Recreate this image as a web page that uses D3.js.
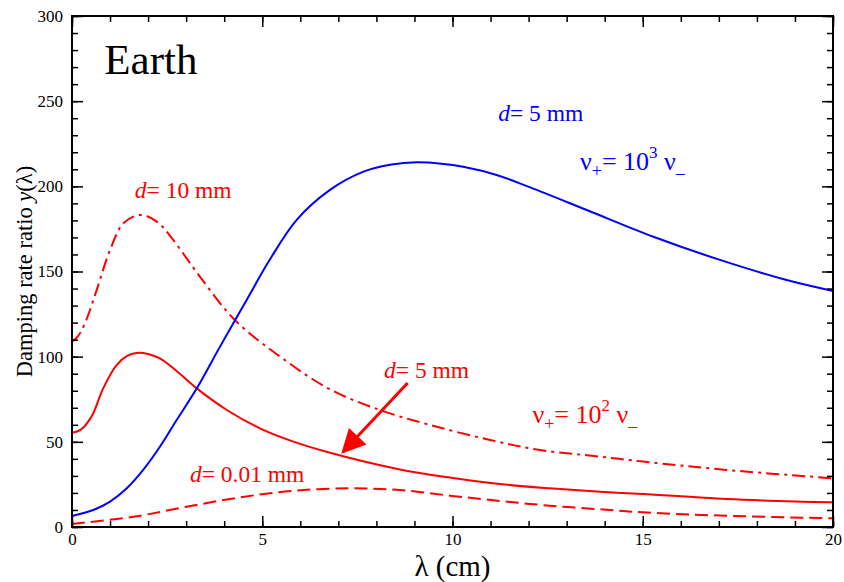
<!DOCTYPE html>
<html>
<head>
<meta charset="utf-8">
<script src="https://cdn.jsdelivr.net/npm/d3@7"></script>
<style>
  body { margin: 0; background: #fff; }
  svg, text { font-family: "Liberation Serif", "Times New Roman", "DejaVu Serif", serif; }
</style>
</head>
<body>
<svg id="chart" width="844" height="582" font-family="Liberation Serif, Times New Roman, serif"></svg>
<script>
// wavelength lambda (cm) / damping rate ratio y
var blueX = [0, 0.56, 1.0, 1.44, 1.87, 2.31, 2.75, 3.28, 3.89, 4.59, 5.2, 5.90, 6.78, 7.66, 8.4, 9.06, 9.7, 10.28, 11.16, 12.04, 13.53, 15.28, 17.03, 18.78, 20];
var blueY = [6.5, 10, 14.9, 22.7, 33.5, 47.1, 62.8, 81.4, 105.9, 133.3, 157, 180.2, 197.9, 208.6, 212.8, 214.1, 213.3, 211.5, 206.7, 199.4, 186.1, 170.4, 156.8, 145, 138.6];

var solidX = [0, 0.15, 0.30, 0.43, 0.56, 0.82, 1.17, 1.45, 1.74, 2.0, 2.31, 2.75, 3.28, 4.07, 4.94, 5.82, 6.78, 8.62, 9.93, 11.25, 12.56, 13.88, 15.01, 17.2, 20];
var solidY = [55.4, 56.2, 58.4, 62, 66.8, 81.4, 95.1, 100.5, 102.3, 101.6, 99, 91.6, 81.4, 68.7, 57.9, 50.1, 43.6, 33.8, 29, 25.2, 22.7, 20.7, 19.4, 16.4, 14.5];

var dashDotX = [0, 0.15, 0.30, 0.45, 0.65, 1.0, 1.35, 1.79, 2.23, 2.66, 3.36, 4.28, 5.47, 6.78, 8.09, 9.41, 10.99, 12.3, 13.88, 15.01, 17.2, 20];
var dashDotY = [108.8, 111.8, 117.6, 126, 139.2, 162.6, 178.3, 183.2, 179.3, 168.5, 147, 121.5, 100, 80.8, 68.7, 59.9, 51.1, 45.2, 41.3, 38.4, 33.5, 28.6];

var dashX = [0, 1.61, 3.01, 4.42, 5.82, 7.31, 8.62, 9.93, 11.25, 12.56, 13.88, 15.01, 17.2, 20];
var dashY = [1.8, 6, 11.9, 17.4, 21.3, 22.7, 21.7, 18.4, 15.3, 12.5, 10.4, 8.6, 6.6, 5.1];

var xMajor = [0, 5, 10, 15, 20];
var yMajor = [0, 50, 100, 150, 200, 250, 300];

(function() {
    var svg = d3.select('#chart');
    var pL = 72, pR = 833, pT = 16, pB = 527;

    var x = d3.scaleLinear().domain([0, 20]).range([pL, pR]);
    var y = d3.scaleLinear().domain([0, 300]).range([pB, pT]);

    var line = d3.line()
        .x(function(d) { return x(d[0]); })
        .y(function(d) { return y(d[1]); })
        .curve(d3.curveCatmullRom.alpha(0.5));

    function pairs(xs, ys) { return xs.map(function(v, i) { return [v, ys[i]]; }); }

    // curves
    svg.append('path').datum(pairs(dashX, dashY))
        .attr('d', line).attr('fill', 'none').attr('stroke', '#ff0000')
        .attr('stroke-width', 2).attr('stroke-dasharray', '13,6');
    svg.append('path').datum(pairs(dashDotX, dashDotY))
        .attr('d', line).attr('fill', 'none').attr('stroke', '#ff0000')
        .attr('stroke-width', 2).attr('stroke-dasharray', '13,5,3,5');
    svg.append('path').datum(pairs(solidX, solidY))
        .attr('d', line).attr('fill', 'none').attr('stroke', '#ff0000')
        .attr('stroke-width', 2);
    svg.append('path').datum(pairs(blueX, blueY))
        .attr('d', line).attr('fill', 'none').attr('stroke', '#0000ff')
        .attr('stroke-width', 2);

    // axes: ticks pointing inward, mirrored on all four sides
    var tickStyle = function(g) {
        g.attr('font-family', null).attr('font-size', null);
        g.select('.domain').remove();
        g.selectAll('line').attr('stroke', '#000').attr('stroke-width', 1.5);
        g.selectAll('text').attr('fill', '#000').style('font-size', '17px');
    };
    function minor(axis) { return axis.tickSizeInner(-6).tickSizeOuter(0).tickFormat(''); }

    svg.append('g').attr('transform', 'translate(0,' + pB + ')')
        .call(minor(d3.axisBottom(x).tickValues(d3.range(0, 21, 1)))).call(tickStyle);
    svg.append('g').attr('transform', 'translate(0,' + pT + ')')
        .call(minor(d3.axisTop(x).tickValues(d3.range(0, 21, 1)))).call(tickStyle);
    svg.append('g').attr('transform', 'translate(' + pL + ',0)')
        .call(minor(d3.axisLeft(y).tickValues(d3.range(0, 301, 10)))).call(tickStyle);
    svg.append('g').attr('transform', 'translate(' + pR + ',0)')
        .call(minor(d3.axisRight(y).tickValues(d3.range(0, 301, 10)))).call(tickStyle);

    svg.append('g').attr('transform', 'translate(0,' + pB + ')')
        .call(d3.axisBottom(x).tickValues(xMajor).tickSizeInner(-11).tickSizeOuter(0).tickPadding(6))
        .call(tickStyle);
    svg.append('g').attr('transform', 'translate(0,' + pT + ')')
        .call(d3.axisTop(x).tickValues(xMajor).tickSizeInner(-11).tickSizeOuter(0).tickFormat(''))
        .call(tickStyle);
    svg.append('g').attr('transform', 'translate(' + pL + ',0)')
        .call(d3.axisLeft(y).tickValues(yMajor).tickSizeInner(-11).tickSizeOuter(0).tickPadding(9))
        .call(tickStyle);
    svg.append('g').attr('transform', 'translate(' + pR + ',0)')
        .call(d3.axisRight(y).tickValues(yMajor).tickSizeInner(-11).tickSizeOuter(0).tickFormat(''))
        .call(tickStyle);

    svg.append('rect')
        .attr('x', pL).attr('y', pT)
        .attr('width', pR - pL).attr('height', pB - pT)
        .attr('fill', 'none').attr('stroke', '#000').attr('stroke-width', 2);

    // axis titles
    svg.append('text').attr('x', (pL + pR) / 2).attr('y', 576)
        .attr('text-anchor', 'middle').style('font-size', '29px').text('λ (cm)');
    var yl = svg.append('text')
        .attr('transform', 'translate(32,' + ((pT + pB) / 2) + ') rotate(-90)')
        .attr('text-anchor', 'middle').style('font-size', '22.5px');
    yl.append('tspan').text('Damping rate ratio ');
    yl.append('tspan').style('font-style', 'italic').text('y');
    yl.append('tspan').text('(λ)');

    // annotations
    svg.append('text').attr('x', x(0.85)).attr('y', 74)
        .style('font-size', '43px').text('Earth');

    function dLabel(px, py, rest, color) {
        var t = svg.append('text').attr('x', px).attr('y', py)
            .attr('fill', color).style('font-size', '23.5px');
        t.append('tspan').style('font-style', 'italic').text('d');
        t.append('tspan').text('= ' + rest);
    }
    dLabel(x(1.65), 198, '10 mm', '#ff0000');
    dLabel(x(11.2), 121, '5 mm', '#0000ff');
    dLabel(x(8.2), 378, '5 mm', '#ff0000');
    dLabel(x(3.1), 482, '0.01 mm', '#ff0000');

    function nuLabel(px, py, pow, color) {
        var t = svg.append('text').attr('x', px).attr('y', py)
            .attr('fill', color).style('font-size', '26px');
        t.append('tspan').text('ν');
        t.append('tspan').attr('dy', 7).style('font-size', '18px').text('+');
        t.append('tspan').attr('dy', -7).text('= 10');
        t.append('tspan').attr('dy', -12).style('font-size', '17px').text(pow);
        t.append('tspan').attr('dy', 12).text(' ν');
        t.append('tspan').attr('dy', 3).style('font-size', '18px').text('_');
    }
    nuLabel(x(13.35), 170, '3', '#0000ff');
    nuLabel(x(12.1), 423, '2', '#ff0000');

    // arrow pointing at the d = 5 mm red curve
    svg.append('defs').append('marker')
        .attr('id', 'head').attr('viewBox', '0 0 10 10')
        .attr('refX', 9).attr('refY', 5)
        .attr('markerWidth', 9).attr('markerHeight', 8)
        .attr('markerUnits', 'strokeWidth')
        .attr('orient', 'auto')
        .append('path').attr('d', 'M0,0 L10,5 L0,10 Z').attr('fill', '#ff0000');
    svg.append('line')
        .attr('x1', x(8.82)).attr('y1', 383)
        .attr('x2', x(7.12)).attr('y2', 452)
        .attr('stroke', '#ff0000').attr('stroke-width', 3)
        .attr('marker-end', 'url(#head)');
})();
</script>
</body>
</html>
